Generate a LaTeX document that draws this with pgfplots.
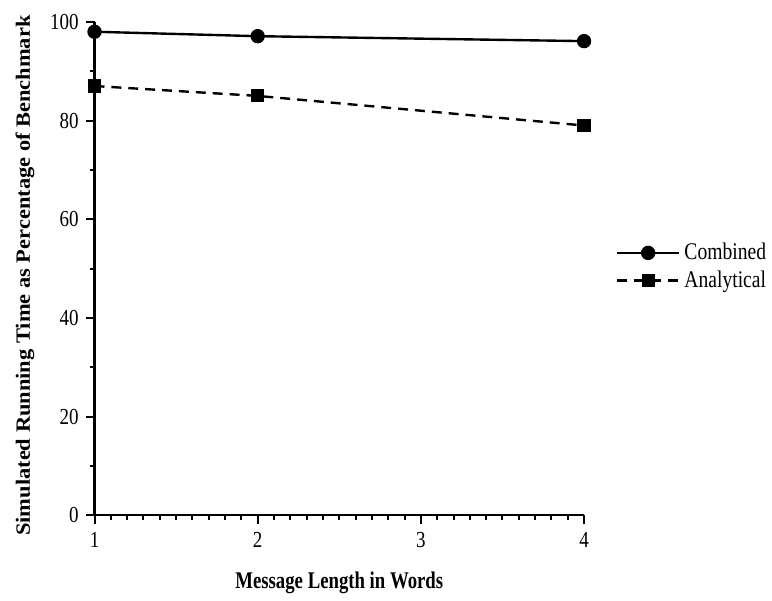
\documentclass[border=0pt]{standalone}
\usepackage{fontspec}
\setmainfont{Liberation Serif}
\usepackage{graphicx}
\usepackage{pgfplots}
\pgfplotsset{compat=1.18}
\newcommand\sq[1]{\scalebox{0.83}[1]{#1}}
\begin{document}
\begin{tikzpicture}
\begin{axis}[
  at={(0,0)}, anchor=origin,
  scale only axis,
  width=246pt, height=248pt,
  xmin=1, xmax=4, ymin=0, ymax=100,
  axis lines=left,
  axis line style={-, line width=1.1pt},
  xtick={1,2,3,4},
  xticklabels={\sq{1},\sq{2},\sq{3},\sq{4}},
  ytick={0,20,40,60,80,100},
  yticklabels={\sq{0},\sq{20},\sq{40},\sq{60},\sq{80},\sq{100}},
  minor x tick num=9,
  minor y tick num=1,
  tick align=outside,
  major tick length=4.5pt,
  minor tick length=2.5pt,
  every tick/.style={black, line width=1pt},
  tick label style={font=\fontsize{11.5}{13}\selectfont},
  xticklabel style={yshift=-0.5pt},
  xlabel={\scalebox{0.785}[1]{\textbf{Message Length in Words}}},
  ylabel={\scalebox{0.94}[0.85]{\textbf{Simulated Running Time as Percentage of Benchmark}}},
  label style={font=\fontsize{12}{14}\selectfont},
  xlabel style={yshift=-5.5pt},
  ylabel style={yshift=1pt, xshift=-3.5pt},
  legend style={draw=none, at={(1.06,0.504)}, anchor=west, font=\fontsize{12}{14}\selectfont, row sep=0pt, inner sep=1pt},
  legend cell align=left,
  legend image code/.code={\draw[#1, mark repeat=2, mark phase=2] plot coordinates {(0cm,0cm) (0.55cm,0cm) (1.1cm,0cm)};},
  legend entries={\scalebox{0.82}[1]{Combined},\scalebox{0.82}[1]{Analytical}},
  clip=false,
]
\addplot[black, line width=1.2pt, mark=*, mark size=3pt] coordinates {(1,98) (2,97.1) (4,96.1)};
\addplot[black, line width=1.2pt, dash pattern=on 5pt off 3.5pt, mark=square*, mark size=2.7pt, mark options={solid}] coordinates {(1,87) (2,85) (4,79)};
\end{axis}
\path[use as bounding box] (-47.5pt,-36pt) rectangle (338.5pt,259pt);
\end{tikzpicture}
\end{document}
